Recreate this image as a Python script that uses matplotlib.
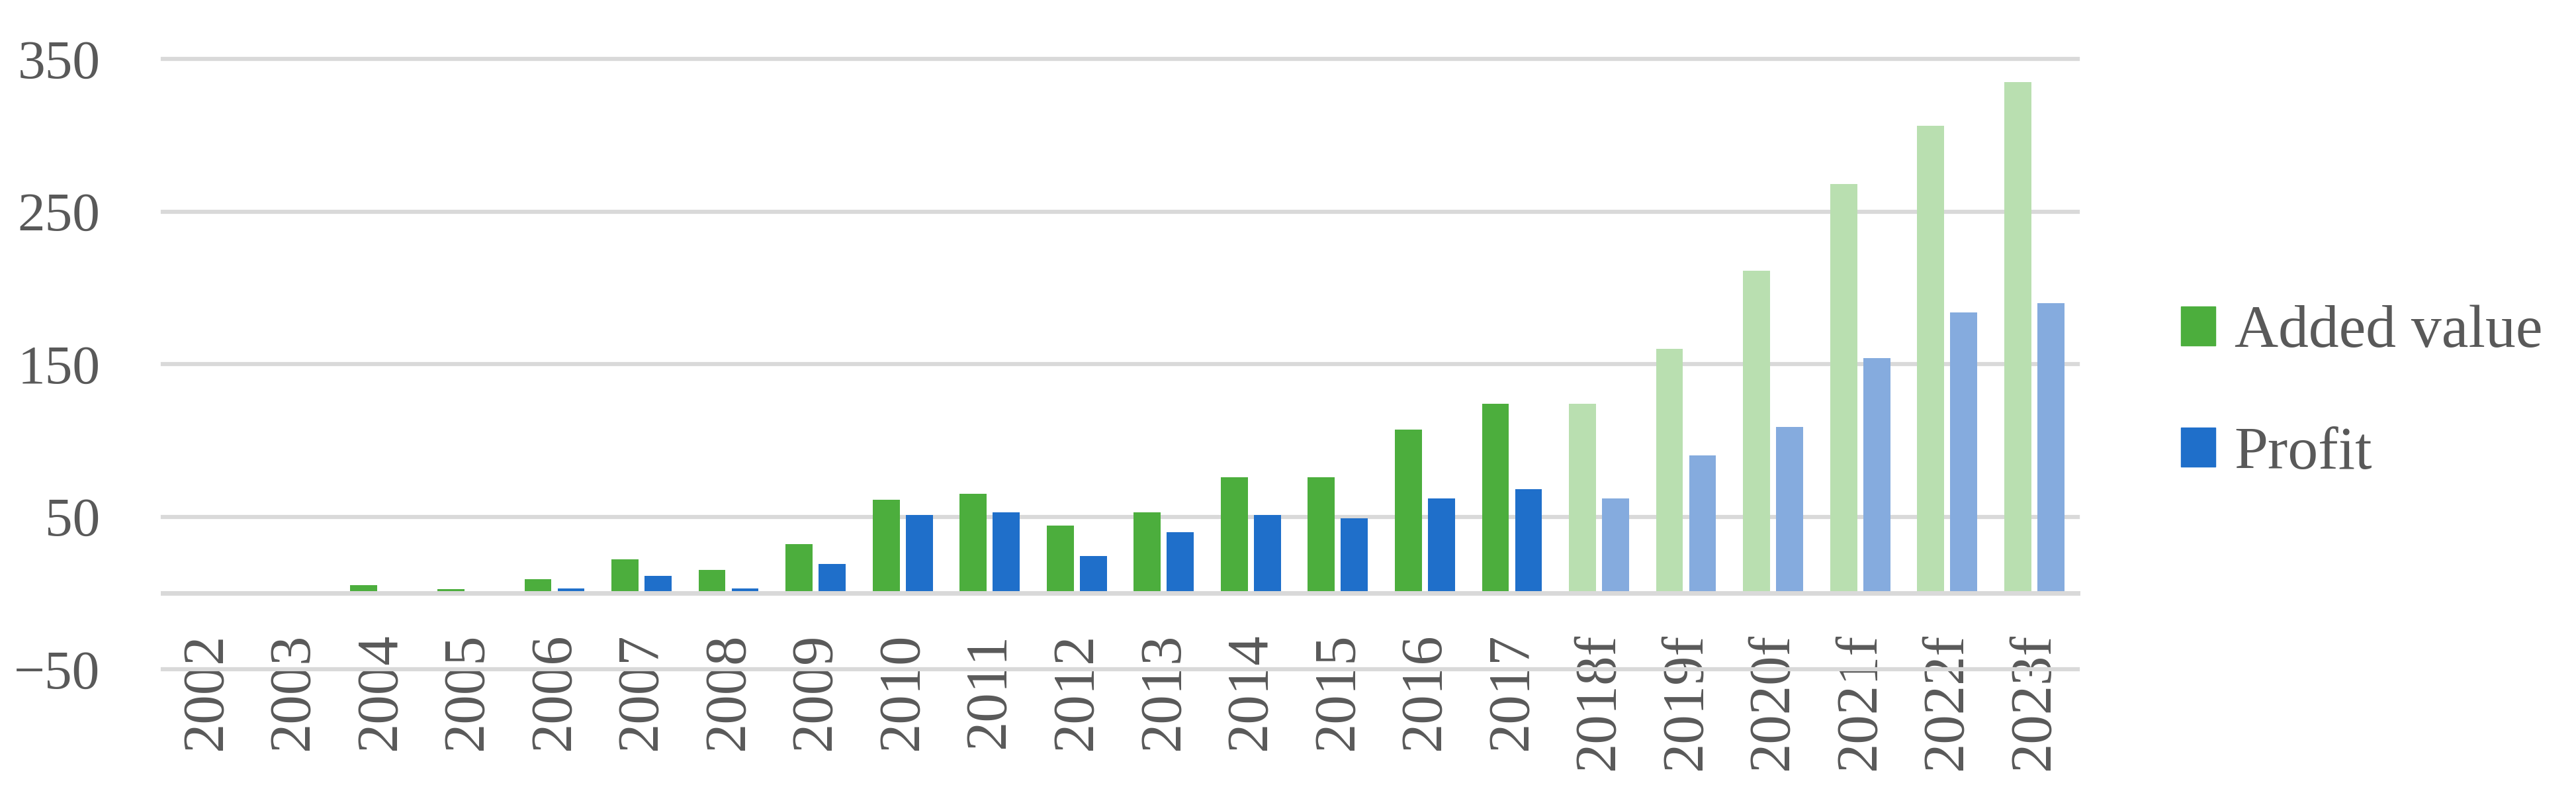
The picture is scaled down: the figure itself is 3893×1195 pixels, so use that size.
import matplotlib

matplotlib.use("Agg")
import matplotlib.pyplot as plt
import numpy as np
from matplotlib.patches import Patch

years = ["2002", "2003", "2004", "2005", "2006", "2007", "2008", "2009", "2010",
         "2011", "2012", "2013", "2014", "2015", "2016", "2017",
         "2018f", "2019f", "2020f", "2021f", "2022f", "2023f"]
added_value = [0, 0, 5, 2.5, 9, 22, 15, 32, 61, 65, 44, 53, 76, 76, 107, 124,
               124, 160, 211, 268, 306, 335]
profit = [0, 0, 0, 0, 3, 11, 3, 19, 51, 53, 24, 40, 51, 49, 62, 68,
          62, 90, 109, 154, 184, 190]
n_actual = 16  # years without the "f" (forecast) suffix
y_ticks = [-50, 50, 150, 250, 350]

GREEN = "#4CAE3D"
BLUE = "#1F6FCA"
GREEN_F = "#B9DFB0"
BLUE_F = "#85ABDE"
GRID = "#D9D9D9"
TEXT = "#595959"
SERIF = ["Liberation Serif", "DejaVu Serif"]

W, H = 3893, 1195
fig = plt.figure(figsize=(W / 100, H / 100), dpi=100)
ax = fig.add_axes([246 / W, 184 / H, (3140 - 246) / W, (1011 - 89) / H])

# category axis crosses at 0 (must be set before ticks, it resets the axis)
for side in ("left", "right", "top"):
    ax.spines[side].set_visible(False)
ax.spines["bottom"].set_position(("data", 0))
ax.spines["bottom"].set_color(GRID)
ax.spines["bottom"].set_linewidth(5)
ax.spines["bottom"].set_zorder(3)

x = np.arange(len(years))
green_cols = [GREEN if i < n_actual else GREEN_F for i in x]
blue_cols = [BLUE if i < n_actual else BLUE_F for i in x]
width = 0.31
ax.bar(x - 0.19, added_value, width, color=green_cols, zorder=2)
ax.bar(x + 0.19, profit, width, color=blue_cols, zorder=2)

ax.set_xlim(-0.5, len(years) - 0.5)
ax.set_ylim(-50, 350)
ax.set_yticks(y_ticks)
ax.set_yticklabels([f"{v}".replace("-", "\u2212") for v in y_ticks],
                   fontsize=60, color=TEXT, family=SERIF)
ax.tick_params(axis="y", length=0, pad=68)
ax.yaxis.grid(True, color=GRID, linewidth=4.5)
for gl in ax.get_ygridlines():
    gl.set_clip_on(False)
ax.set_axisbelow(True)

ax.set_xticks(x)
ax.set_xticklabels(years, rotation=90, fontsize=64, color=TEXT, family=SERIF)
ax.tick_params(axis="x", length=0, pad=44)

handles = [Patch(color=GREEN, label="Added value"), Patch(color=BLUE, label="Profit")]
fig.legend(handles=handles, loc="center left", bbox_to_anchor=(3296 / W, 0.503),
           frameon=False, borderpad=0, borderaxespad=0,
           handlelength=0.57, handleheight=0.62, handletextpad=0.31,
           labelspacing=1.1, prop={"family": SERIF, "size": 66}, labelcolor=TEXT)

fig.savefig("out.png", dpi=100)
